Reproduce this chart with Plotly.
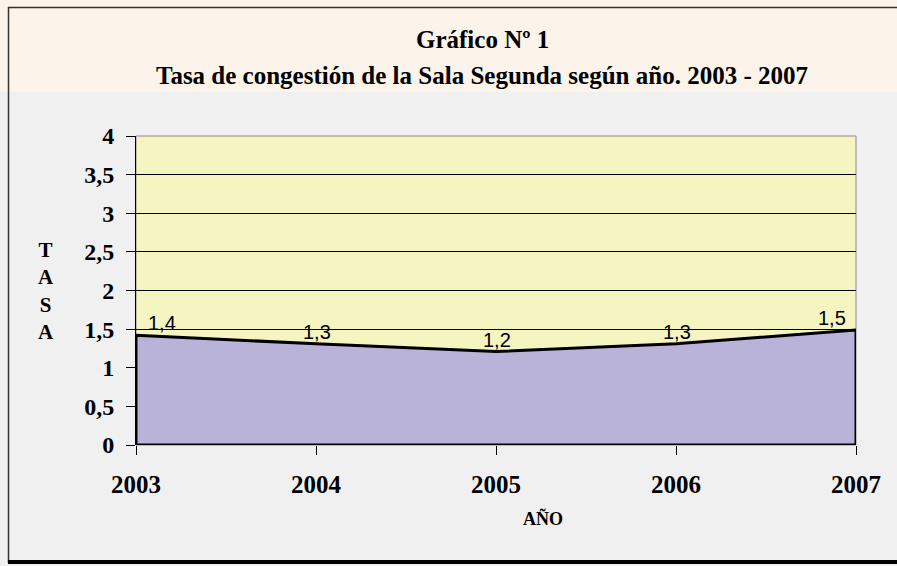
import plotly.graph_objects as go

years = [2003, 2004, 2005, 2006, 2007]
tasa = [1.42, 1.31, 1.21, 1.31, 1.49]
ytick_vals = [0, 0.5, 1, 1.5, 2, 2.5, 3, 3.5, 4]
ytick_text = ["0", "0,5", "1", "1,5", "2", "2,5", "3", "3,5", "4"]
title_lines = ["Gráfico Nº 1", "Tasa de congestión de la Sala Segunda según año. 2003 - 2007"]
x_title = "AÑO"
y_title = "TASA"

labels = [f"{v:.1f}".replace(".", ",") for v in tasa]

W, H = 897, 566
L, R, T, B = 136, 856, 136, 445

serif = "Liberation Serif, Times New Roman, serif"

fig = go.Figure()

# filled area polygon (closed down to zero)
poly_x = years + [years[-1], years[0], years[0]]
poly_y = tasa + [0, 0, tasa[0]]
fig.add_trace(go.Scatter(
    x=poly_x, y=poly_y, mode="lines", fill="toself",
    fillcolor="#B9B3D9", line=dict(color="black", width=3),
    hoverinfo="skip", showlegend=False,
))

fig.update_layout(
    width=W, height=H,
    margin=dict(l=L, r=W - R, t=T, b=H - B),
    paper_bgcolor="#F0F0F0",
    plot_bgcolor="#F5F5C2",
    showlegend=False,
    xaxis=dict(
        range=[years[0], years[-1]], tickmode="array", tickvals=years,
        ticktext=["<b>" + str(y) + "</b>" for y in years],
        tickfont=dict(family=serif, size=25, color="black"),
        ticks="outside", ticklen=9, tickcolor="black", tickwidth=1,
        ticklabelstandoff=8,
        showgrid=False, zeroline=False, showline=False,
    ),
    yaxis=dict(
        range=[0, 4], tickmode="array", tickvals=ytick_vals,
        ticktext=["<b>" + t + "</b>" for t in ytick_text],
        tickfont=dict(family=serif, size=24, color="black"),
        ticks="outside", ticklen=9, tickcolor="black", tickwidth=1,
        ticklabelstandoff=7,
        showgrid=True, gridcolor="black", gridwidth=1,
        zeroline=False, showline=True, linecolor="black", linewidth=1,
    ),
)


def px_x(p):
    return (p - L) / (R - L)


def px_y(p):
    return (B - p) / (B - T)


shapes = [
    # peach title band
    dict(type="rect", xref="paper", yref="paper", x0=px_x(0), x1=px_x(W),
         y0=px_y(92), y1=px_y(0), fillcolor="#FCF3EA", line=dict(width=0), layer="below"),
    # plot area gray border
    dict(type="rect", xref="paper", yref="paper", x0=0, x1=1, y0=0, y1=1,
         line=dict(color="#888888", width=1), layer="below"),
    # outer frame lines
    dict(type="line", xref="paper", yref="paper", x0=px_x(8), x1=px_x(W), y0=px_y(7.5), y1=px_y(7.5),
         line=dict(color="#333333", width=1.5)),
    dict(type="line", xref="paper", yref="paper", x0=px_x(8.5), x1=px_x(8.5), y0=px_y(7), y1=px_y(563),
         line=dict(color="#333333", width=1.5)),
    dict(type="line", xref="paper", yref="paper", x0=px_x(8), x1=px_x(W), y0=px_y(562), y1=px_y(562),
         line=dict(color="black", width=4)),
]
fig.update_layout(shapes=shapes)

ann = [
    dict(text="<b>" + title_lines[0] + "</b>", xref="paper", yref="paper", x=px_x(482), y=px_y(40),
         showarrow=False, font=dict(family=serif, size=25, color="black"), xanchor="center", yanchor="middle"),
    dict(text="<b>" + title_lines[1] + "</b>", xref="paper", yref="paper", x=px_x(482), y=px_y(75),
         showarrow=False, font=dict(family=serif, size=25, color="black"), xanchor="center", yanchor="middle"),
    dict(text="<b>" + "<br>".join(list(y_title)) + "</b>", xref="paper", yref="paper", x=px_x(46), y=px_y(291),
         showarrow=False, font=dict(family=serif, size=21, color="black"), xanchor="center", yanchor="middle"),
    dict(text="<b>" + x_title + "</b>", xref="paper", yref="paper", x=px_x(543), y=px_y(518),
         showarrow=False, font=dict(family=serif, size=18, color="black"), xanchor="center", yanchor="middle"),
]

# data labels
n = len(years)
for i, (xv, yv, lab) in enumerate(zip(years, tasa, labels)):
    if i == 0:
        xa, xs = "left", 10
    elif i == n - 1:
        xa, xs = "right", -8
    else:
        xa, xs = "center", 1
    ann.append(dict(
        text=lab, x=xv, y=yv, xref="x", yref="y", showarrow=False,
        xanchor=xa, yanchor="bottom", xshift=xs, yshift=-1,
        font=dict(family="Liberation Sans, Arial", size=20, color="black"),
    ))

fig.update_layout(annotations=ann)

fig.write_html("out.html", config={"displayModeBar": False},
               post_script="document.body.style.margin='0';document.body.style.overflow='hidden';")
